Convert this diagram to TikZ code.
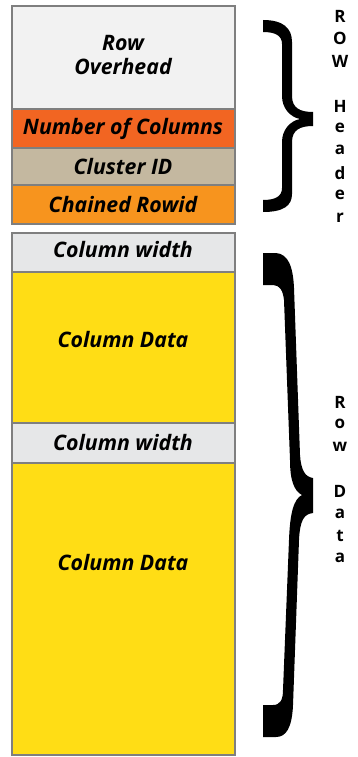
\documentclass[tikz,border=0pt]{standalone}
\usepackage{fontspec}
\setmainfont{Open Sans}
\definecolor{secgray}{HTML}{7F7F7F}
\definecolor{rowover}{HTML}{F2F2F2}
\definecolor{numcol}{HTML}{F26522}
\definecolor{clusterid}{HTML}{C4B8A0}
\definecolor{chained}{HTML}{F7941E}
\definecolor{colwidth}{HTML}{E6E7E8}
\definecolor{coldata}{HTML}{FFDD15}
\begin{document}
\begin{tikzpicture}[x=1pt,y=-1pt,
  sec/.style={rectangle, draw=secgray, line width=2pt, minimum width=223pt, inner sep=0pt, outer sep=0pt, anchor=north west},
  lbl/.style={font=\fontsize{21.3}{24}\selectfont\bfseries\itshape, text=black, align=center, inner sep=0pt},
  vlet/.style={font=\fontsize{17}{20}\selectfont\bfseries, anchor=center, inner sep=0pt},
  bracefill/.style={fill=black, draw=none}]
\useasboundingbox (0,0) rectangle (357,757);
% row header block
\node[sec, fill=rowover, minimum height=103pt] (ovh) at (12,6) {};
\node[sec, fill=numcol, minimum height=39pt] (ncol) at (12,109) {};
\node[sec, fill=clusterid, minimum height=37pt] (clid) at (12,148) {};
\node[sec, fill=chained, minimum height=39pt] (chrow) at (12,185) {};
% row data block
\node[sec, fill=colwidth, minimum height=39pt] (cwa) at (12,233) {};
\node[sec, fill=coldata, minimum height=151pt] (cda) at (12,272) {};
\node[sec, fill=colwidth, minimum height=40pt] (cwb) at (12,423) {};
\node[sec, fill=coldata, minimum height=292pt] (cdb) at (12,463) {};
% labels
\node[lbl] (tovh) at (123,55) {Row\\Overhead};
\node[lbl] (tncol) at (123,129) {Number of Columns};
\node[lbl] (tclid) at (123,167) {Cluster ID};
\node[lbl] (tchrow) at (123,205) {Chained Rowid};
\node[lbl] (tcwa) at (123,250) {Column width};
\node[lbl] (tcda) at (123,340) {Column Data};
\node[lbl] (tcwb) at (123,443) {Column width};
\node[lbl] (tcdb) at (123,563) {Column Data};
% header brace
\fill[bracefill] (263,20) .. controls (283,20) and (292,28) .. (292,42)
  -- (292,96) .. controls (292,108) and (300,112) .. (313,112)
  -- (313,126) .. controls (300,126) and (292,130) .. (292,142)
  -- (292,194) .. controls (292,206) and (283,212) .. (263,212)
  -- (263,200) .. controls (276,200) and (282,196) .. (282,188)
  -- (282,142) .. controls (282,130) and (290,121) .. (300,119)
  .. controls (290,117) and (282,108) .. (282,96)
  -- (282,44) .. controls (282,36) and (276,32) .. (263,32) -- cycle;
% data brace
\fill[bracefill] (263,253) -- (276,253) .. controls (288,254) and (293,266) .. (294,288)
  -- (300,455) .. controls (301,470) and (305,477) .. (313,478)
  -- (313,513) .. controls (304,514) and (300,520) .. (299,540)
  -- (293,705) .. controls (292,728) and (286,737) .. (276,737)
  -- (263,737) -- (263,705) -- (273,705)
  .. controls (280,705) and (283,700) .. (283,690)
  -- (289,540) .. controls (290,512) and (294,499) .. (302,495)
  .. controls (294,491) and (290,480) .. (290,460)
  -- (284,300) .. controls (283,291) and (280,285) .. (273,285)
  -- (263,285) -- cycle;
% vertical captions
\foreach \ch/\yy [count=\i] in {R/16,O/38,W/61,H/106,e/128,a/150,d/173,e/195,r/218}
  \node[vlet] (hdr\i) at (340,\yy) {\ch};
\foreach \ch/\yy [count=\i] in {R/402,o/424,w/447,D/491,a/514,t/536,a/558}
  \node[vlet] (dat\i) at (340,\yy) {\ch};
\end{tikzpicture}
\end{document}
